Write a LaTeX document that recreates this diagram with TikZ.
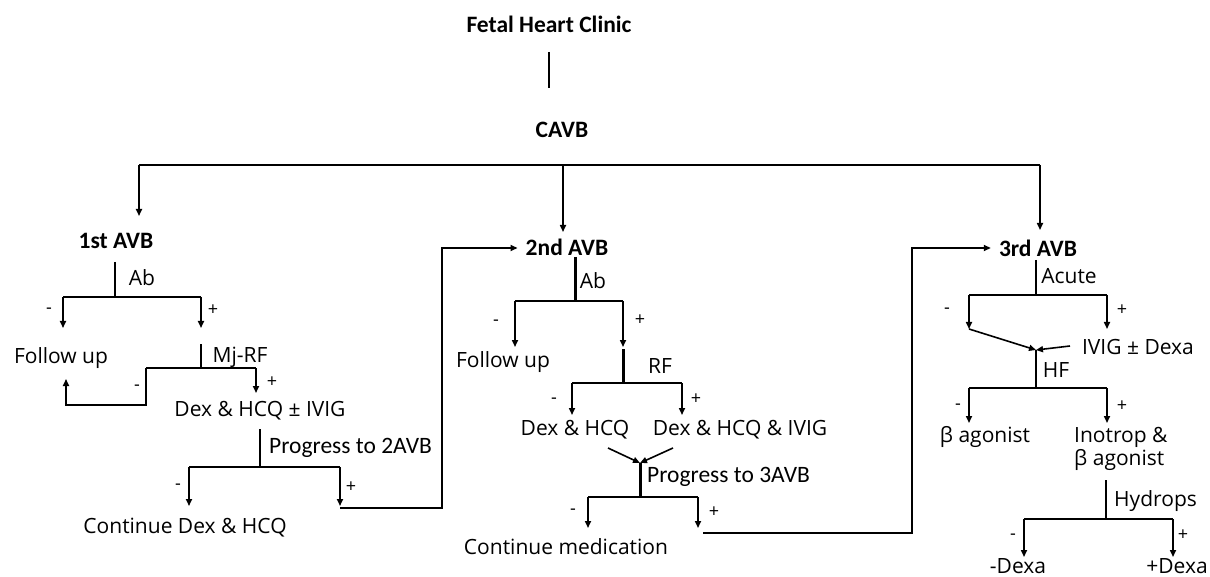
\documentclass[tikz,border=0pt]{standalone}
\usepackage{fontspec}
\setmainfont{Open Sans}
\newfontfamily\calib{Carlito}
\usetikzlibrary{arrows.meta}
\begin{document}
\begin{tikzpicture}[x=1pt,y=-1pt,
  lbl/.style={inner sep=0pt, font=\fontsize{21}{23}\selectfont},
  ttl/.style={inner sep=0pt, font=\calib\bfseries\fontsize{23.5}{26}\selectfont},
  prg/.style={inner sep=0pt, anchor=west, font=\calib\fontsize{23.5}{26}\selectfont},
  sgn/.style={inner sep=0pt, font=\fontsize{18}{20}\selectfont},
  ln/.style={line width=1.6pt},
  thk/.style={line width=3pt},
  arr/.style={line width=1.6pt, -{Triangle[length=7pt,width=6pt]}},
]
\useasboundingbox (0,0) rectangle (1210,577);
% ---------- top ----------
\node[ttl] (fhc) at (549,24) {Fetal Heart Clinic};
\node[ttl] (cavb) at (562,130) {CAVB};
\coordinate (t1) at (549,52); \coordinate (t2) at (549,88);
\draw[ln] (t1) -- (t2);
\coordinate (b1) at (139,165); \coordinate (b2) at (563,165); \coordinate (b3) at (1040,165);
\coordinate (b1e) at (139,216); \coordinate (b2e) at (563,232); \coordinate (b3e) at (1040,230);
\draw[line width=2.2pt] (b1) -- (b3);
\draw[arr] (b1) -- (b1e);
\draw[arr] (b2) -- (b2e);
\draw[arr] (b3) -- (b3e);
% ---------- 1st AVB ----------
\node[ttl] (avb1) at (116,241) {1st AVB};
\coordinate (l1a) at (115,262); \coordinate (l1b) at (115,297);
\draw[ln] (l1a) -- (l1b);
\node[lbl] (ab1) at (142,278) {Ab};
\coordinate (l1L) at (63,297); \coordinate (l1R) at (201,297);
\coordinate (l1Le) at (63,328); \coordinate (l1Re) at (201,328);
\draw[ln] (l1L) -- (l1R);
\draw[arr] (l1L) -- (l1Le);
\draw[arr] (l1R) -- (l1Re);
\node[sgn] (s1) at (49,311) {-};
\node[sgn] (s2) at (213,310) {+};
\node[lbl] (fu1) at (61,358) {Follow up};
\coordinate (m1a) at (201,344); \coordinate (m1b) at (201,368);
\draw[ln] (m1a) -- (m1b);
\node[lbl] (mjrf) at (240,357) {Mj-RF};
\coordinate (m1L) at (146,368); \coordinate (m1R) at (256,368);
\coordinate (m1Re) at (256,393);
\draw[ln] (m1L) -- (m1R);
\draw[arr] (m1R) -- (m1Re);
\node[sgn] (s3) at (272,382) {+};
\coordinate (m1d) at (146,405); \coordinate (m1e) at (66,405); \coordinate (m1f) at (66,379);
\draw[arr] (m1L) -- (m1d) -- (m1e) -- (m1f);
\node[sgn] (s4) at (137,388) {-};
\node[lbl] (dex1) at (260,411) {Dex \& HCQ ± IVIG};
\coordinate (p1a) at (260,429); \coordinate (p1b) at (260,467);
\draw[ln] (p1a) -- (p1b);
\node[prg] (prog2) at (269,448) {Progress to 2AVB};
\coordinate (p1L) at (189,467); \coordinate (p1R) at (340,467);
\coordinate (p1Le) at (189,506); \coordinate (p1Re) at (340,506);
\draw[ln] (p1L) -- (p1R);
\draw[arr] (p1L) -- (p1Le);
\draw[arr] (p1R) -- (p1Re);
\node[sgn] (s5) at (178,487) {-};
\node[sgn] (s6) at (351,487) {+};
\node[lbl] (cont1) at (185,528) {Continue Dex \& HCQ};
% ---------- 2nd AVB ----------
\node[ttl] (avb2) at (567,247) {2nd AVB};
\coordinate (l2a) at (575,257); \coordinate (l2b) at (575,301);
\draw[thk] (l2a) -- (l2b);
\node[lbl] (ab2) at (593,281) {Ab};
\coordinate (l2L) at (515,301); \coordinate (l2R) at (623,301);
\coordinate (l2Le) at (515,347); \coordinate (l2Re) at (623,347);
\draw[ln] (l2L) -- (l2R);
\draw[arr] (l2L) -- (l2Le);
\draw[arr] (l2R) -- (l2Re);
\node[sgn] (s7) at (496,323) {-};
\node[sgn] (s8) at (640,320) {+};
\node[lbl] (fu2) at (503,362) {Follow up};
\coordinate (r2a) at (623,349); \coordinate (r2b) at (623,383);
\draw[thk] (r2a) -- (r2b);
\node[lbl] (rf) at (660,366) {RF};
\coordinate (r2L) at (572,383); \coordinate (r2R) at (682,383);
\coordinate (r2Le) at (572,415); \coordinate (r2Re) at (682,415);
\draw[ln] (r2L) -- (r2R);
\draw[arr] (r2L) -- (r2Le);
\draw[arr] (r2R) -- (r2Re);
\node[sgn] (s9) at (554,401) {-};
\node[sgn] (s10) at (696,399) {+};
\node[lbl] (dh2) at (575,430) {Dex \& HCQ};
\node[lbl] (dhi2) at (740,430) {Dex \& HCQ \& IVIG};
\coordinate (c2a) at (608,448); \coordinate (c2b) at (673,448); \coordinate (c2m) at (640,463);
\draw[arr] (c2a) -- (c2m);
\draw[arr] (c2b) -- (c2m);
\coordinate (p2b) at (640,497);
\draw[thk] (c2m) -- (p2b);
\node[prg] (prog3) at (647,477) {Progress to 3AVB};
\coordinate (p2L) at (588,497); \coordinate (p2R) at (698,497);
\coordinate (p2Le) at (588,528); \coordinate (p2Re) at (698,528);
\draw[ln] (p2L) -- (p2R);
\draw[arr] (p2L) -- (p2Le);
\draw[arr] (p2R) -- (p2Re);
\node[sgn] (s11) at (573,512) {-};
\node[sgn] (s12) at (714,512) {+};
\node[lbl] (cm) at (566,547) {Continue medication};
% ---------- 3rd AVB ----------
\node[ttl] (avb3) at (1038,248) {3rd AVB};
\coordinate (l3a) at (1036,260); \coordinate (l3b) at (1036,295);
\draw[ln] (l3a) -- (l3b);
\node[lbl] (acute) at (1069,276) {Acute};
\coordinate (l3L) at (969,295); \coordinate (l3R) at (1107,295);
\coordinate (l3Le) at (969,329); \coordinate (l3Re) at (1107,329);
\draw[ln] (l3L) -- (l3R);
\draw[arr] (l3L) -- (l3Le);
\draw[arr] (l3R) -- (l3Re);
\node[sgn] (s13) at (947,311) {-};
\node[sgn] (s14) at (1122,310) {+};
\node[lbl] (ivig) at (1138,347) {IVIG ± Dexa};
\coordinate (h3m) at (1036,350); \coordinate (h3r) at (1070,346);
\draw[arr] (l3Le) -- (h3m);
\draw[arr] (h3r) -- (h3m);
\coordinate (h3b) at (1036,388);
\draw[ln] (h3m) -- (h3b);
\node[lbl] (hf) at (1056,370) {HF};
\coordinate (h3L) at (969,388); \coordinate (h3R) at (1107,388);
\coordinate (h3Le) at (969,423); \coordinate (h3Re) at (1107,423);
\draw[ln] (h3L) -- (h3R);
\draw[arr] (h3L) -- (h3Le);
\draw[arr] (h3R) -- (h3Re);
\node[sgn] (s15) at (958,407) {-};
\node[sgn] (s16) at (1122,406) {+};
\node[lbl] (ba) at (985,437) {β agonist};
\node[lbl, anchor=west, align=left] (ino) at (1074,448.5) {Inotrop \&\\β agonist};
\coordinate (y3a) at (1106,480); \coordinate (y3b) at (1106,519);
\draw[ln] (y3a) -- (y3b);
\node[lbl, anchor=west] (hyd) at (1114,501) {Hydrops};
\coordinate (y3L) at (1024,519); \coordinate (y3R) at (1173,519);
\coordinate (y3Le) at (1024,557); \coordinate (y3Re) at (1173,557);
\draw[ln] (y3L) -- (y3R);
\draw[arr] (y3L) -- (y3Le);
\draw[arr] (y3R) -- (y3Re);
\node[sgn] (s17) at (1013,537) {-};
\node[sgn] (s18) at (1183,535) {+};
\node[lbl] (md) at (1018,566) {-Dexa};
\node[lbl] (pd) at (1177,566) {+Dexa};
% ---------- links ----------
\coordinate (k1a) at (340,508); \coordinate (k1b) at (442,508); \coordinate (k1c) at (442,248);
\draw[arr, shorten >=8pt] (k1a) -- (k1b) -- (k1c) -- (avb2.west |- k1c);
\coordinate (k2a) at (703,533); \coordinate (k2b) at (912,533); \coordinate (k2c) at (912,248);
\draw[arr, shorten >=8pt] (k2a) -- (k2b) -- (k2c) -- (avb3.west |- k2c);
\end{tikzpicture}
\end{document}
